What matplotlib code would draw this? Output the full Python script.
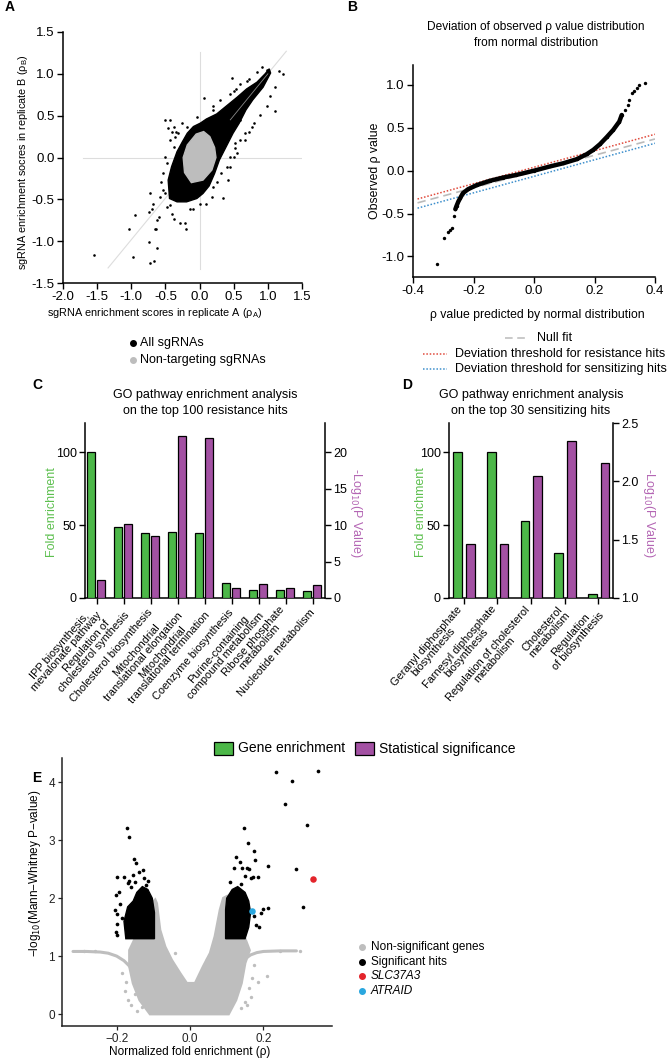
import matplotlib
matplotlib.use('Agg')
import matplotlib.pyplot as plt
from matplotlib.patches import Polygon, Rectangle
from matplotlib.lines import Line2D
import numpy as np

plt.rcParams['font.family'] = ['Liberation Sans', 'DejaVu Sans']
plt.rcParams['axes.linewidth'] = 1.1

# ---------------- Panel A data ----------------
a_xticks = [-2.0, -1.5, -1.0, -0.5, 0.0, 0.5, 1.0, 1.5]
a_yticks = [-1.5, -1.0, -0.5, 0.0, 0.5, 1.0, 1.5]
a_diag_x = [-1.34, 1.27]
a_diag_y = [-1.32, 1.27]
a_hline_x = [-1.71, 1.48]
a_vline_y = [-1.33, 1.26]
# dense region of all sgRNAs (outline)
a_cloud_x = [-0.44, -0.46, -0.41, -0.33, -0.25, -0.18, -0.09, 0.01, 0.10, 0.25, 0.40, 0.55, 0.69, 0.84, 0.96, 1.02,
             1.04, 0.93, 0.78, 0.68, 0.58, 0.49, 0.39, 0.29, 0.22, 0.14, 0.05, -0.04, -0.19, -0.33]
a_cloud_y = [-0.49, -0.27, -0.11, 0.07, 0.19, 0.29, 0.37, 0.41, 0.46, 0.52, 0.62, 0.72, 0.82, 0.90, 1.00, 1.06,
             1.01, 0.84, 0.69, 0.57, 0.41, 0.29, 0.13, -0.03, -0.19, -0.34, -0.43, -0.49, -0.53, -0.53]
# dense region of non-targeting sgRNAs (outline)
a_core_x = [-0.24, -0.18, -0.05, 0.06, 0.15, 0.22, 0.24, 0.18, 0.05, -0.12, -0.22]
a_core_y = [0.00, 0.15, 0.28, 0.31, 0.25, 0.12, 0.00, -0.15, -0.27, -0.30, -0.18]
# individual sgRNAs outside the dense region
a_pts_x = [-1.55, -0.97, -1.04, -0.94, -0.74, -0.72, -0.67, -0.63, -0.66, -0.64, -0.60, -0.74, -0.20, -0.28, -0.21,
           -0.43, -0.72, 0.06, 0.47, 0.70, 0.54, 0.77, 1.10, 1.22, 1.17, 0.99, 0.55, 0.34, 0.52, -0.43, -0.51, -0.19,
           -0.34, -0.38, -0.26, -0.04, 0.20, 0.50, 0.59, 0.67, 0.67, 0.50, 0.45, 0.42, 0.01, -0.14, -0.53, -0.58,
           -0.68, -0.70, -0.48, -0.41, -0.29, -0.38, -0.63,
           -0.46, -0.41, -0.36, -0.31, -0.43, -0.38, -0.50, -0.47, -0.53, -0.56, -0.51,
           0.20, 0.25, 0.32, 0.40, 0.45, 0.52, 0.59, 0.72, 0.79, 0.89, 0.99, 1.03, 1.11,
           0.10, 0.18, -0.09, 0.20, 0.30, 0.45, 0.50, 0.59, 0.72, 0.84, 0.91]
a_pts_y = [-1.16, -1.19, -0.85, -0.69, -1.01, -1.26, -1.24, -1.08, -0.85, -0.86, -0.71, -0.65, -0.85, -0.78, -0.78,
           -0.57, -0.43, 0.71, 0.95, 0.92, 0.82, 0.37, 0.55, 1.00, 1.03, 1.05, 0.05, -0.49, 0.17, 0.45, 0.45, 0.37,
           0.31, 0.37, 0.41, 0.49, 0.57, 0.53, 0.45, 0.29, 0.21, 0.01, -0.11, -0.27, -0.55, -0.61, -0.39, -0.47,
           -0.55, -0.61, -0.59, -0.67, -0.51, -0.73, -0.75,
           0.35, 0.31, 0.25, 0.29, 0.21, 0.13, 0.01, -0.07, -0.19, -0.29, -0.43,
           -0.35, -0.29, -0.19, -0.11, 0.01, 0.11, 0.21, 0.31, 0.41, 0.51, 0.61, 0.73, 0.84,
           -0.55, -0.47, -0.61, 0.61, 0.69, 0.76, 0.80, 0.88, 0.94, 1.02, 1.08]

# ---------------- Panel B data ----------------
b_ticks = [-0.4, -0.2, 0.0, 0.2, 0.4]
b_yticks = [-1.0, -0.5, 0.0, 0.5, 1.0]
qq_x = [-0.320, -0.297, -0.284, -0.277, -0.270, -0.265, -0.260, -0.256, -0.250, -0.243, -0.235, -0.218, -0.190,
        -0.146, -0.102, -0.058, 0.0, 0.052, 0.097, 0.141, 0.174, 0.196, 0.218, 0.240, 0.262, 0.282, 0.290,
        0.301, 0.310, 0.315, 0.323, 0.331, 0.339, 0.348, 0.367]
qq_y = [-1.089, -0.786, -0.717, -0.689, -0.670, -0.526, -0.449, -0.410, -0.359, -0.313, -0.262, -0.216, -0.169,
        -0.118, -0.080, -0.049, 0.0, 0.049, 0.087, 0.134, 0.192, 0.243, 0.309, 0.390, 0.476, 0.573, 0.650,
        0.709, 0.767, 0.825, 0.903, 0.934, 0.961, 1.000, 1.019]
fit_x = [-0.385, 0.40]
null_fit_y = [-0.375, 0.37]
resist_y = [-0.33, 0.425]
sensit_y = [-0.437, 0.32]

# ---------------- Panel C data ----------------
c_cats = ["IPP biosynthesis,\nmevalonate pathway", "Regulation of\ncholesterol synthesis",
          "Cholesterol biosynthesis", "Mitochondrial\ntranslational elongation",
          "Mitochondrial\ntranslational termination", "Coenzyme biosynthesis",
          "Purine-containing\ncompound metabolism", "Ribose phosphate\nmetabolism", "Nucleotide metabolism"]
c_fold = [100, 48.5, 44.7, 45.2, 44.3, 10.3, 5.7, 5.3, 4.6]
c_logp = [2.43, 10.2, 8.5, 22.2, 22.0, 1.38, 1.97, 1.42, 1.83]

# ---------------- Panel D data ----------------
d_cats = ["Geranyl diphosphate\nbiosynthesis", "Farnesyl diphosphate\nbiosynthesis",
          "Regulation of cholesterol\nmetabolism", "Cholesterol\nmetabolism", "Regulation\nof biosynthesis"]
d_fold = [100, 100, 52.8, 31.2, 2.5]
d_logp = [1.467, 1.467, 2.044, 2.348, 2.156]

# ---------------- Panel E data ----------------
e_gray_x = [-0.109, -0.137, -0.155, -0.165, -0.165, -0.150, -0.125, -0.105, -0.095, -0.091, -0.082, -0.068, -0.050,
            -0.027, -0.009, 0.014, 0.036, 0.055, 0.068, 0.082, 0.091, 0.100, 0.120, 0.150, 0.162, 0.150, 0.140,
            0.125, 0.105]
e_gray_y = [0.0, 0.24, 0.53, 0.82, 1.10, 1.30, 1.60, 1.90, 1.97, 1.91, 1.45, 1.16, 0.93, 0.70, 0.53, 0.53, 0.82,
            1.05, 1.34, 1.80, 2.00, 2.03, 1.60, 1.30, 1.10, 0.88, 0.53, 0.24, 0.0]
e_wingL_x = [-0.319, -0.282, -0.245, -0.223, -0.200, -0.180, -0.164]
e_wingL_y = [1.08, 1.08, 1.07, 1.05, 1.00, 0.92, 0.82]
e_wingR_x = [0.150, 0.165, 0.182, 0.200, 0.246, 0.290]
e_wingR_y = [0.95, 1.02, 1.06, 1.08, 1.09, 1.09]
e_gray_pts_x = [-0.175, -0.170, -0.160, -0.145, -0.130, 0.160, 0.165, 0.170, 0.150, 0.140, -0.040, 0.045, 0.210,
                0.245, 0.300, -0.290, -0.260, -0.185, -0.178, 0.175, 0.185, -0.150, 0.155]
e_gray_pts_y = [0.55, 0.25, 0.15, 0.05, 0.12, 0.45, 0.30, 0.62, 0.20, 0.10, 1.05, 0.95, 0.65, 1.08, 1.08, 1.08, 1.08,
                0.70, 0.40, 0.85, 0.55, 0.35, 0.15]
e_sigL_x = [-0.175, -0.097, -0.097, -0.103, -0.115, -0.130, -0.145, -0.155, -0.170, -0.180]
e_sigL_y = [1.30, 1.30, 1.75, 2.00, 2.15, 2.20, 2.10, 1.95, 1.85, 1.60]
e_sigR_x = [0.097, 0.150, 0.160, 0.165, 0.160, 0.150, 0.130, 0.115, 0.100, 0.097]
e_sigR_y = [1.30, 1.30, 1.50, 1.75, 1.95, 2.10, 2.20, 2.15, 2.00, 1.80]
e_hits_x = [-0.173, -0.166, -0.152, -0.146, -0.129, -0.138, -0.200, -0.180, -0.170, -0.193, -0.203, -0.204, -0.198,
            -0.200, -0.203, -0.198, -0.185, -0.190, -0.165, -0.155, -0.125, -0.115, -0.160, -0.150, -0.120,
            0.146, 0.159, 0.175, 0.178, 0.212, 0.126, 0.135, 0.142, 0.155, 0.160, 0.120, 0.185, 0.172, 0.165, 0.150,
            0.199, 0.212, 0.180, 0.189, 0.193, 0.175, 0.235, 0.350, 0.278, 0.260, 0.319, 0.290, 0.307, 0.110, 0.140]
e_hits_y = [3.22, 3.05, 2.67, 2.60, 2.49, 2.45, 2.37, 2.36, 2.26, 2.11, 2.06, 1.80, 1.72, 1.55, 1.42, 1.36, 1.65,
            1.90, 2.30, 2.40, 2.35, 2.30, 2.20, 2.28, 2.22,
            3.22, 2.96, 2.82, 2.66, 2.56, 2.71, 2.62, 2.52, 2.52, 2.51, 2.52, 2.37, 2.37, 2.35, 2.38,
            1.81, 1.83, 1.54, 1.51, 1.74, 1.70, 4.17, 4.20, 4.02, 3.63, 3.26, 2.50, 1.84, 2.28, 2.25]
slc_x, slc_y = [0.335], [2.33]
atraid_x, atraid_y = [0.169], [1.77]

GREEN = '#4cb748'
PURPLE = '#a351a3'
GREEN_T = '#5cbf4e'
PURPLE_T = '#b466b4'

W, H = 670, 1063
fig = plt.figure(figsize=(W / 100, H / 100), dpi=100)


def ax_px(l, t, r, b):
    return fig.add_axes([l / W, 1 - b / H, (r - l) / W, (b - t) / H])


def ftext(x, y, s, **kw):
    fig.text(x / W, 1 - y / H, s, **kw)


def style(ax, fs=9):
    for s in ['top', 'right']:
        ax.spines[s].set_visible(False)
    ax.tick_params(direction='out', length=4, width=1.0, labelsize=fs, pad=2)


# ---------------- Panel A ----------------
axA = ax_px(63, 32, 302, 283)
axA.set_xlim(-2.0, 1.5)
axA.set_ylim(-1.5, 1.5)
axA.plot(a_hline_x, [0, 0], color='#dddddd', lw=0.8, zorder=1)
axA.plot([0, 0], a_vline_y, color='#dddddd', lw=0.8, zorder=1)
axA.plot(a_diag_x, a_diag_y, color='#dddddd', lw=0.8, zorder=1)
axA.add_patch(Polygon(np.column_stack([a_cloud_x, a_cloud_y]), closed=True, fc='black', ec='black', lw=1.0, zorder=2))
axA.scatter(a_pts_x, a_pts_y, s=3.5, c='black', lw=0, zorder=2)
axA.add_patch(Polygon(np.column_stack([a_core_x, a_core_y]), closed=True, fc='#bdbdbd', ec='#bdbdbd', lw=1, zorder=3))
axA.plot([0.45, 1.0], [0.45, 1.0], color='#8a8a8a', lw=0.6, zorder=4)
axA.set_xticks(a_xticks)
axA.set_yticks(a_yticks)
axA.set_xticklabels([f"{v:.1f}" for v in a_xticks])
axA.set_yticklabels([f"{v:.1f}" for v in a_yticks])
style(axA, 9.5)
ftext(155, 313, "sgRNA enrichment scores in replicate A (\u03c1$_\\mathregular{A}$)", ha='center', va='center',
      fontsize=7.8)
ftext(23, 162, "sgRNA enrichment socres in replicate B (\u03c1$_\\mathregular{B}$)", ha='center', va='center',
      fontsize=7.8, rotation=90)
ftext(5, 7, "A", fontsize=10, fontweight='bold', va='center')
fig.add_artist(Line2D([133 / W], [1 - 343 / H], marker='o', ms=4, color='black', lw=0, transform=fig.transFigure))
fig.add_artist(Line2D([133 / W], [1 - 360 / H], marker='o', ms=4, color='#bdbdbd', lw=0, transform=fig.transFigure))
ftext(140, 343, "All sgRNAs", va='center', fontsize=9)
ftext(140, 360, "Non-targeting sgRNAs", va='center', fontsize=9)

# ---------------- Panel B ----------------
axB = ax_px(413, 65, 655, 277)
axB.set_xlim(-0.4, 0.4)
axB.set_ylim(-1.24, 1.233)
axB.plot(fit_x, null_fit_y, color='#bbbbbb', lw=1.2, ls=(0, (5, 3)), zorder=2)
axB.plot(fit_x, resist_y, color='#e04a3c', lw=1.1, ls=(0, (1, 1.2)), zorder=2)
axB.plot(fit_x, sensit_y, color='#3d8fcc', lw=1.1, ls=(0, (1, 1.2)), zorder=2)
qx = np.array(qq_x)
qy = np.array(qq_y)
dense = (qx > -0.262) & (qx < 0.292)
axB.plot(qx[dense], qy[dense], color='black', lw=3.2, solid_capstyle='round', zorder=3)
axB.scatter(qx, qy, s=6, c='black', lw=0, zorder=3)
axB.set_xticks(b_ticks)
axB.set_yticks(b_yticks)
axB.set_xticklabels([f"{v:.1f}" for v in b_ticks])
axB.set_yticklabels([f"{v:.1f}" for v in b_yticks])
style(axB, 9.5)
ftext(537, 315, "\u03c1 value predicted by normal distribution", ha='center', va='center', fontsize=8.8)
ftext(375, 171, "Observed \u03c1 value", ha='center', va='center', fontsize=8.8, rotation=90)
ftext(536, 35, "Deviation of observed \u03c1 value distribution\nfrom normal distribution", ha='center',
      va='center', fontsize=8.6, linespacing=1.35)
ftext(347, 7, "B", fontsize=10, fontweight='bold', va='center')
# legend B
for (x0, x1, y, col, ls, txt, tx) in [
        (505, 528, 338, '#bbbbbb', (0, (5, 3)), "Null fit", 537),
        (423, 447, 354, '#e04a3c', (0, (1, 1.2)), "Deviation threshold for resistance hits", 455),
        (423, 447, 369, '#3d8fcc', (0, (1, 1.2)), "Deviation threshold for sensitizing hits", 455)]:
    fig.add_artist(Line2D([x0 / W, x1 / W], [1 - y / H, 1 - y / H], color=col, ls=ls, lw=1.1,
                          transform=fig.transFigure))
    ftext(tx, y, txt, va='center', fontsize=9)


# ---------------- Panels C and D ----------------
def bar_panel(l, r, fold, logp, rlim, rticks, rfmt, goff, poff, width):
    ax = ax_px(l, 423, r, 598)
    x = np.arange(len(fold))
    ax.bar(x + goff, fold, width=width, color=GREEN, edgecolor='black', lw=0.9, zorder=3)
    ax.set_ylim(0, 120)
    ax.set_yticks([0, 50, 100])
    ax2 = ax.twinx()
    ax2.bar(x + poff, np.array(logp) - rlim[0], bottom=rlim[0], width=width, color=PURPLE, edgecolor='black',
            lw=0.9, zorder=3)
    ax2.set_ylim(*rlim)
    ax2.set_yticks(rticks)
    ax2.set_yticklabels([rfmt.format(v) for v in rticks])
    return ax, ax2, x


def finish(ax, ax2, x, cats, xl, fs_lab):
    ax.spines['top'].set_visible(False)
    ax.spines['right'].set_visible(False)
    ax2.spines['top'].set_visible(False)
    ax2.spines['left'].set_visible(False)
    ax2.spines['bottom'].set_visible(False)
    ax.tick_params(direction='out', length=4, width=1.0, labelsize=9, pad=2)
    ax.tick_params(axis='x', pad=5)
    ax2.tick_params(direction='out', length=4, width=1.0, labelsize=9, pad=2)
    ax.set_xlim(*xl)
    ax.set_xticks(x)
    ax.set_xticklabels(cats, rotation=49, ha='right', va='center', rotation_mode='anchor', multialignment='center',
                       fontsize=fs_lab, linespacing=0.88)


axC, axC2, xc = bar_panel(85, 325, c_fold, c_logp, (0, 24), [0, 5, 10, 15, 20], "{:d}", -0.2, 0.16, 0.28)
finish(axC, axC2, xc, c_cats, (-0.43, 8.46), 7.9)
axD, axD2, xd = bar_panel(449, 613, d_fold, d_logp, (1.0, 2.5), [1.0, 1.5, 2.0, 2.5], "{:.1f}", -0.18, 0.2, 0.26)
finish(axD, axD2, xd, d_cats, (-0.44, 4.44), 7.9)

ftext(205, 403, "GO pathway enrichment analysis\non the top 100 resistance hits", ha='center', va='center',
      fontsize=9, linespacing=1.35)
ftext(531, 403, "GO pathway enrichment analysis\non the top 30 sensitizing hits", ha='center', va='center',
      fontsize=9, linespacing=1.35)
ftext(32, 385, "C", fontsize=10, fontweight='bold', va='center')
ftext(402, 385, "D", fontsize=10, fontweight='bold', va='center')
ftext(52, 512, "Fold enrichment", color=GREEN_T, rotation=90, ha='center', va='center', fontsize=9)
ftext(421, 512, "Fold enrichment", color=GREEN_T, rotation=90, ha='center', va='center', fontsize=9)
ftext(356, 513, r"-Log$_{10}$(P Value)", color=PURPLE_T, rotation=270, ha='center', va='center', fontsize=9)
ftext(649, 513, r"-Log$_{10}$(P Value)", color=PURPLE_T, rotation=270, ha='center', va='center', fontsize=9)
# legend C/D
fig.add_artist(Rectangle((214 / W, 1 - 755 / H), 19 / W, 13 / H, fc=GREEN, ec='black', lw=0.9,
                         transform=fig.transFigure))
ftext(238, 748.5, "Gene enrichment", va='center', fontsize=10)
fig.add_artist(Rectangle((355 / W, 1 - 755 / H), 19 / W, 13 / H, fc=PURPLE, ec='black', lw=0.9,
                         transform=fig.transFigure))
ftext(379, 748.5, "Statistical significance", va='center', fontsize=10)

# ---------------- Panel E ----------------
axE = ax_px(62, 758, 332, 1026)
axE.set_xlim(-0.349, 0.387)
axE.set_ylim(-0.207, 4.42)
axE.add_patch(Polygon(np.column_stack([e_gray_x, e_gray_y]), closed=True, fc='#bebebe', ec='#bebebe', lw=2,
                      zorder=2))
axE.plot(e_wingL_x, e_wingL_y, color='#bebebe', lw=2.2, zorder=2, solid_capstyle='round')
axE.plot(e_wingR_x, e_wingR_y, color='#bebebe', lw=2.2, zorder=2, solid_capstyle='round')
axE.scatter(e_gray_pts_x, e_gray_pts_y, s=6, c='#bebebe', lw=0, zorder=2)
axE.add_patch(Polygon(np.column_stack([e_sigL_x, e_sigL_y]), closed=True, fc='black', ec='black', lw=1.0, zorder=3))
axE.add_patch(Polygon(np.column_stack([e_sigR_x, e_sigR_y]), closed=True, fc='black', ec='black', lw=1.0, zorder=3))
axE.scatter(e_hits_x, e_hits_y, s=7, c='black', lw=0, zorder=3)
axE.scatter(slc_x, slc_y, s=22, c='#e3242b', lw=0, zorder=4)
axE.scatter(atraid_x, atraid_y, s=22, c='#2aa7df', lw=0, zorder=4)
axE.set_xticks([-0.2, 0.0, 0.2])
axE.set_xticklabels(["\u22120.2", "0.0", "0.2"])
axE.set_yticks([0, 1, 2, 3, 4])
for s in ['top', 'right']:
    axE.spines[s].set_visible(False)
for s in ['left', 'bottom']:
    axE.spines[s].set_color('#222222')
axE.tick_params(direction='out', length=3, width=0.9, labelsize=8.5, pad=2, colors='#222222')
ftext(190, 1052, "Normalized fold enrichment (\u03c1)", ha='center', va='center', fontsize=8.5)
ftext(35, 873, "\u2212log$_{10}$(Mann\u2212Whitney P\u2212value)", ha='center', va='center', fontsize=8.5,
      rotation=90)
ftext(32, 778, "E", fontsize=10, fontweight='bold', va='center')
for (y, col, txt, st) in [(947, '#bebebe', "Non-significant genes", 'normal'),
                          (961.5, 'black', "Significant hits", 'normal'),
                          (976, '#e3242b', "SLC37A3", 'italic'),
                          (990.5, '#2aa7df', "ATRAID", 'italic')]:
    fig.add_artist(Line2D([362 / W], [1 - y / H], marker='o', ms=4, color=col, lw=0, transform=fig.transFigure))
    ftext(371, y, txt, va='center', fontsize=8.5, style=st)

fig.savefig('out.png', dpi=100)
